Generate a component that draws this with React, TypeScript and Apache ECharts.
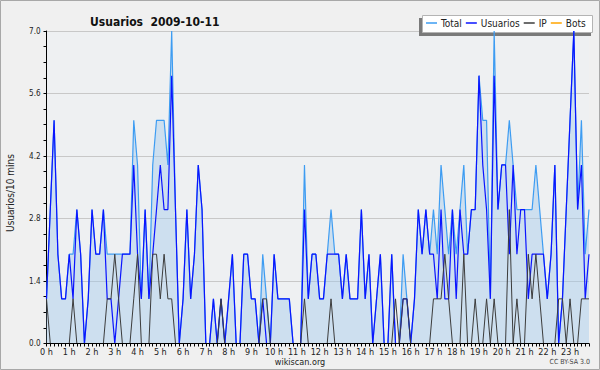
import React, { useEffect, useRef } from 'react';
import * as echarts from 'echarts';

const hourLabels = ['0 h', '1 h', '2 h', '3 h', '4 h', '5 h', '6 h', '7 h', '8 h', '9 h', '10 h', '11 h',
  '12 h', '13 h', '14 h', '15 h', '16 h', '17 h', '18 h', '19 h', '20 h', '21 h', '22 h', '23 h'];
const minuteLabels = ['00', '10', '20', '30', '40', '50'];

const seriesNames = ['Total', 'Usuarios', 'IP', 'Bots'];

const total = [
  1, 3, 5, 2, 1, 1, 2, 2, 3, 2, 0, 1,
  3, 2, 2, 3, 2, 2, 2, 2, 2, 2, 2, 5,
  4, 1, 3, 1, 4, 5, 5, 5, 4, 7, 3, 0,
  1, 3, 1, 2, 4, 3, 0, 0, 1, 0, 1, 0,
  1, 2, 0, 0, 2, 2, 1, 1, 0, 2, 1, 0,
  2, 1, 1, 1, 1, 0, 0, 0, 4, 1, 2, 2,
  1, 1, 2, 3, 2, 2, 1, 2, 1, 1, 1, 3,
  1, 2, 0, 1, 2, 0, 0, 2, 0, 0, 2, 1,
  0, 1, 3, 2, 3, 2, 3, 2, 4, 3, 2, 3,
  2, 3, 4, 2, 3, 3, 6, 5, 5, 1, 7, 3,
  4, 4, 5, 4, 3, 3, 3, 3, 3, 4, 3, 2,
  1, 2, 4, 0, 1, 3, 5, 7, 3, 5, 2, 3,
];

const usuarios = [
  1, 3, 5, 2, 1, 1, 2, 1, 3, 2, 0, 1,
  3, 2, 2, 3, 1, 1, 0, 1, 2, 2, 2, 4,
  2, 1, 3, 1, 2, 3, 4, 3, 3, 6, 3, 0,
  1, 3, 1, 2, 4, 3, 0, 0, 1, 0, 1, 0,
  1, 2, 0, 0, 2, 2, 1, 1, 0, 1, 0, 0,
  2, 1, 1, 1, 1, 0, 0, 0, 3, 1, 2, 2,
  1, 1, 2, 2, 2, 2, 1, 2, 1, 1, 1, 3,
  1, 2, 0, 1, 2, 0, 0, 2, 0, 0, 1, 1,
  0, 1, 3, 2, 3, 2, 2, 1, 3, 1, 1, 3,
  1, 3, 2, 2, 3, 3, 6, 4, 3, 1, 6, 3,
  4, 4, 2, 4, 2, 3, 3, 1, 2, 2, 2, 2,
  1, 2, 4, 0, 1, 3, 5, 7, 3, 4, 1, 2,
];

const ip = [
  1, 0, 0, 0, 0, 0, 0, 1, 0, 0, 0, 0,
  0, 0, 0, 0, 1, 1, 2, 1, 0, 0, 0, 1,
  2, 0, 0, 0, 2, 2, 1, 2, 1, 1, 0, 0,
  0, 0, 0, 0, 0, 0, 0, 0, 0, 0, 1, 0,
  0, 0, 0, 0, 0, 0, 0, 0, 0, 1, 1, 0,
  0, 0, 0, 0, 0, 0, 0, 0, 1, 0, 0, 0,
  0, 0, 0, 1, 0, 0, 0, 0, 0, 0, 0, 0,
  0, 0, 0, 0, 0, 0, 0, 0, 1, 0, 1, 1,
  0, 0, 0, 0, 0, 0, 1, 1, 1, 2, 1, 0,
  0, 0, 2, 0, 0, 1, 0, 0, 1, 0, 1, 0,
  0, 0, 3, 0, 1, 0, 0, 2, 1, 2, 1, 0,
  0, 0, 0, 1, 1, 0, 1, 0, 0, 1, 1, 1,
];

const bots = [
  0, 0, 0, 0, 0, 0, 0, 0, 0, 0, 0, 0,
  0, 0, 0, 0, 0, 0, 0, 0, 0, 0, 0, 0,
  0, 0, 0, 0, 0, 0, 0, 0, 0, 0, 0, 0,
  0, 0, 0, 0, 0, 0, 0, 0, 0, 0, 0, 0,
  0, 0, 0, 0, 0, 0, 0, 0, 0, 0, 0, 0,
  0, 0, 0, 0, 0, 0, 0, 0, 0, 0, 0, 0,
  0, 0, 0, 0, 0, 0, 0, 0, 0, 0, 0, 0,
  0, 0, 0, 0, 0, 0, 0, 0, 0, 0, 0, 0,
  0, 0, 0, 0, 0, 0, 0, 0, 0, 0, 0, 0,
  0, 0, 0, 0, 0, 0, 0, 0, 0, 0, 0, 0,
  0, 0, 0, 0, 0, 0, 0, 0, 0, 0, 0, 0,
  0, 0, 0, 0, 0, 0, 0, 0, 0, 0, 0, 0,
];

const FONT = '"DejaVu Sans Condensed", "DejaVu Sans", sans-serif';

export default function App() {
  const ref = useRef<HTMLDivElement>(null);

  useEffect(() => {
    if (!ref.current) return;
    const chart = echarts.init(ref.current, null, { renderer: 'svg' });
    const categories: string[] = [];
    hourLabels.forEach((_, hi) => minuteLabels.forEach((m) => categories.push(`${hi}:${m}`)));

    chart.setOption({
      animation: false,
      backgroundColor: '#f0f0f0',
      title: {
        text: 'Usuarios  2009-10-11',
        left: 85,
        top: 11,
        textStyle: { fontFamily: FONT, fontSize: 12, fontWeight: 'bold', color: '#111' },
      },
      legend: {
        data: seriesNames,
        left: 426,
        top: 18,
        z: 20,
        padding: 0,
        icon: 'rect',
        itemWidth: 11,
        itemHeight: 1.5,
        itemGap: 4,
        textStyle: { fontFamily: FONT, fontSize: 10, color: '#222', padding: [0, 0, 0, -1] },
      },
      grid: {
        left: 46.5,
        right: 11,
        top: 31,
        bottom: 26.5,
        show: true,
        backgroundColor: '#eef0f2',
        borderWidth: 0,
      },
      xAxis: {
        type: 'category',
        data: categories,
        boundaryGap: false,
        z: 10,
        axisLine: { lineStyle: { color: '#000', width: 1 } },
        axisTick: { interval: 0, length: 3, lineStyle: { color: '#000' } },
        axisLabel: {
          interval: (i: number) => i % 6 === 0,
          hideOverlap: false,
          showMaxLabel: true,
          showMinLabel: true,
          margin: 4,
          fontFamily: FONT,
          fontSize: 9,
          color: '#222',
          formatter: (_v: string, i: number) => hourLabels[Math.floor(i / 6)],
        },
        splitLine: { show: false },
      },
      yAxis: {
        type: 'value',
        min: 0,
        max: 7,
        interval: 1.4,
        axisLine: { show: true, lineStyle: { color: '#000', width: 1 } },
        axisTick: { show: true, length: 3, lineStyle: { color: '#000' } },
        minorTick: { show: true, splitNumber: 4, length: 3, lineStyle: { color: '#000' } },
        axisLabel: {
          margin: 6,
          fontFamily: FONT,
          fontSize: 8,
          color: '#222',
          formatter: (v: number) => v.toFixed(1),
        },
        splitLine: { show: true, lineStyle: { color: '#c8c8c8', width: 1 } },
      },
      graphic: [
        {
          type: 'rect',
          silent: true,
          z: 0,
          shape: { x: 0.5, y: 0.5, width: 599, height: 369 },
          style: { fill: 'none', stroke: '#a8a8a8', lineWidth: 1 },
        },
        {
          type: 'rect',
          silent: true,
          z: 1,
          shape: { x: 419, y: 18, width: 172, height: 18 },
          style: { fill: '#7a7a7a' },
        },
        {
          type: 'rect',
          silent: true,
          z: 2,
          shape: { x: 422.5, y: 15.5, width: 170, height: 17 },
          style: { fill: '#ffffff', stroke: '#b4b4b4', lineWidth: 1 },
        },
        {
          type: 'text',
          silent: true,
          x: 10,
          y: 193,
          rotation: Math.PI / 2,
          style: {
            text: 'Usuarios/10 mins',
            fontFamily: FONT,
            fontSize: 10,
            fill: '#222',
            align: 'center',
            verticalAlign: 'middle',
          },
        },
        {
          type: 'text',
          silent: true,
          x: 300,
          y: 362,
          style: {
            text: 'wikiscan.org',
            fontFamily: FONT,
            fontSize: 9,
            fill: '#222',
            align: 'center',
            verticalAlign: 'middle',
          },
        },
        {
          type: 'text',
          silent: true,
          x: 590,
          y: 362,
          style: {
            text: 'CC BY-SA 3.0',
            fontFamily: FONT,
            fontSize: 7,
            fill: '#444',
            align: 'right',
            verticalAlign: 'middle',
          },
        },
      ],
      series: [
        {
          name: 'Total',
          type: 'line',
          data: total,
          showSymbol: false,
          symbol: 'none',
          z: 2,
          lineStyle: { color: '#3d9cf2', width: 1.2 },
          itemStyle: { color: '#3d9cf2' },
          areaStyle: { color: 'rgba(160, 200, 235, 0.6)' },
        },
        {
          name: 'Usuarios',
          type: 'line',
          data: usuarios,
          showSymbol: false,
          symbol: 'none',
          z: 3,
          lineStyle: { color: '#0a14ff', width: 1.2 },
          itemStyle: { color: '#0a14ff' },
        },
        {
          name: 'IP',
          type: 'line',
          data: ip,
          showSymbol: false,
          symbol: 'none',
          z: 4,
          lineStyle: { color: '#3c3c3c', width: 1 },
          itemStyle: { color: '#3c3c3c' },
        },
        {
          name: 'Bots',
          type: 'line',
          data: bots,
          showSymbol: false,
          symbol: 'none',
          z: 1,
          lineStyle: { color: '#ffa500', width: 1 },
          itemStyle: { color: '#ffa500' },
        },
      ],
    });

    return () => chart.dispose();
  }, []);

  return <div ref={ref} style={{ position: 'fixed', left: 0, top: 0, width: 600, height: 370 }} />;
}
